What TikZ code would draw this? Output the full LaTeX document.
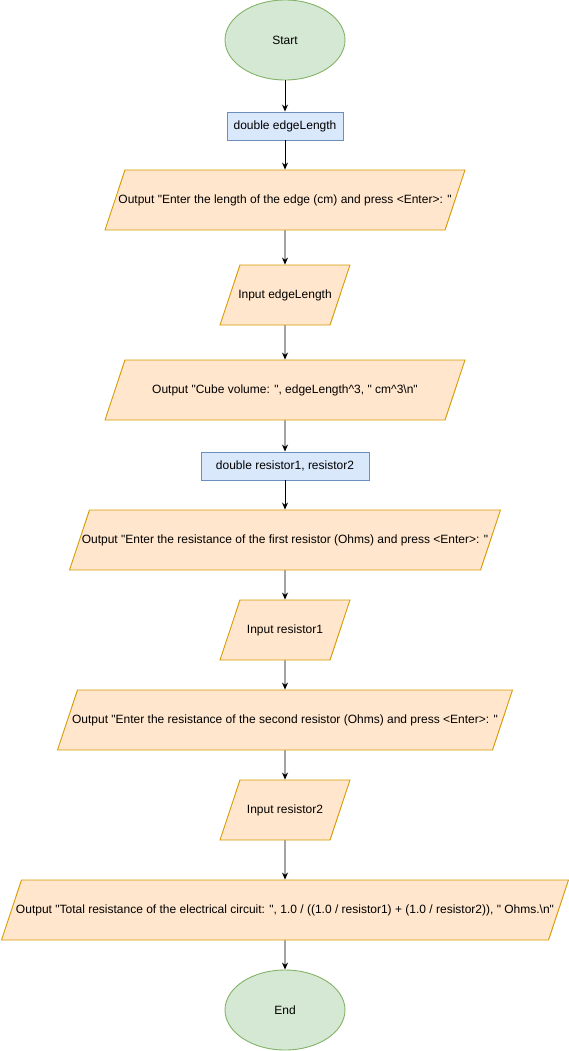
\documentclass[tikz,border=0pt]{standalone}
\usepackage{fontspec}
\setmainfont{Liberation Sans}[Ligatures=TeXOff]
\usetikzlibrary{shapes.geometric,arrows.meta}
\definecolor{termfill}{HTML}{D5E8D4}
\definecolor{termline}{HTML}{82B366}
\definecolor{declfill}{HTML}{DAE8FC}
\definecolor{declline}{HTML}{6C8EBF}
\definecolor{iofill}{HTML}{FFE6CC}
\definecolor{ioline}{HTML}{D79B00}

\tikzset{
	term/.style={ellipse,draw=termline,fill=termfill,minimum width=120pt,minimum height=80pt,inner sep=0pt},
	decl/.style={rectangle,draw=declline,fill=declfill,minimum height=28pt,inner sep=0pt},
	io/.style={trapezium,trapezium left angle=71.6,trapezium right angle=108.4,trapezium stretches body,
		draw=ioline,fill=iofill,text height=9pt,text depth=3pt,inner xsep=-11pt,inner ysep=24pt},
	flow/.style={-{Stealth[length=7pt,width=6pt]}}
}

\begin{document}
\begin{tikzpicture}[x=1pt,y=1pt,line width=0.9pt,font=\fontsize{12}{14}\selectfont]
				\useasboundingbox (0,0) rectangle (569,-1051);
				\node[term] (start) at (285,-40) {Start};
				\node[decl,minimum width=116pt] (d1) at (285,-126) {double edgeLength};
				\node[io,minimum width=360pt] (o1) at (285,-200) {Output "Enter the length of the edge (cm) and press <Enter>: "};
				\node[io,minimum width=130pt] (i1) at (285,-295) {Input edgeLength};
				\node[io,minimum width=360pt] (o2) at (285,-390) {Output "Cube volume: ", edgeLength\textasciicircum 3, " cm\textasciicircum 3\textbackslash n"};
				\node[decl,minimum width=168pt] (d2) at (285,-466) {double resistor1, resistor2};
				\node[io,minimum width=431pt] (o3) at (285,-540) {Output "Enter the resistance of the first resistor (Ohms) and press <Enter>: "};
				\node[io,minimum width=130pt] (i2) at (285,-630) {Input resistor1};
				\node[io,minimum width=455pt] (o4) at (285,-720) {Output "Enter the resistance of the second resistor (Ohms) and press <Enter>: "};
				\node[io,minimum width=130pt] (i3) at (285,-810) {Input resistor2};
				\node[io,minimum width=567pt] (o5) at (285,-910) {Output "Total resistance of the electrical circuit: ", 1.0 / ((1.0 / resistor1) + (1.0 / resistor2)), " Ohms.\textbackslash n"};
				\node[term] (stop) at (285,-1010) {End};
				\foreach\a\b in {start/d1, d1/o1, o1/i1, i1/o2, o2/d2, d2/o3, o3/i2, i2/o4, o4/i3, i3/o5, o5/stop}
				{\draw[flow] (\a) -- (\b);}
\end{tikzpicture}
\end{document}
